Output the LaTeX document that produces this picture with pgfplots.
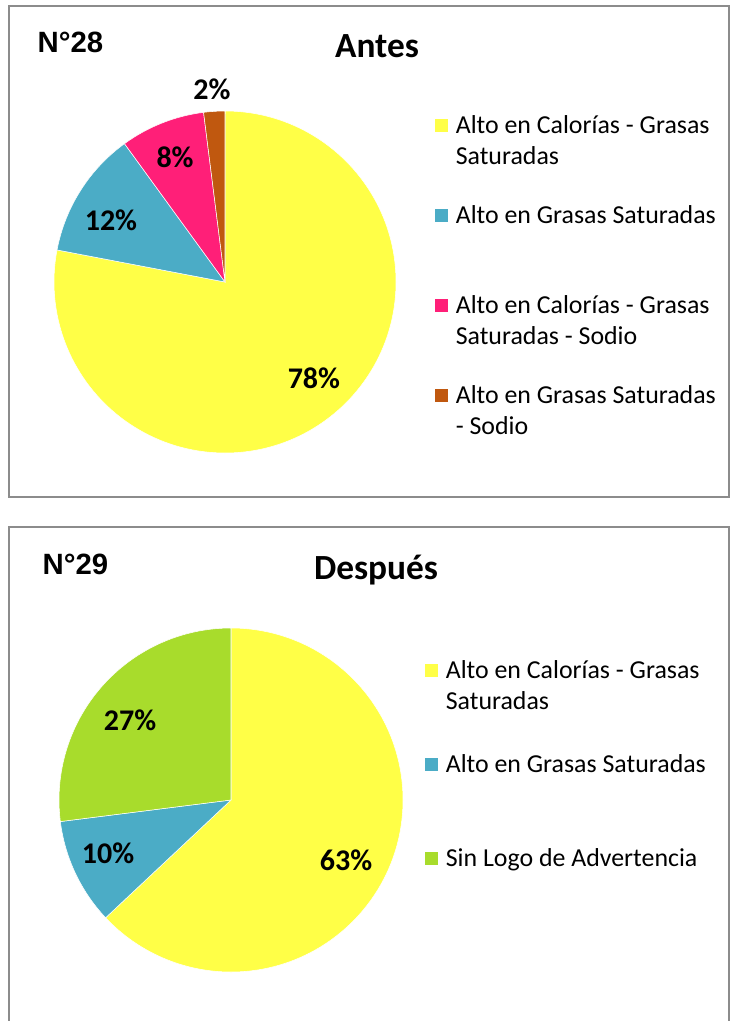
\documentclass[border=0pt]{standalone}
\usepackage{fontspec}
\setmainfont{Carlito}
\newfontfamily\arialfont{Liberation Sans}
\usepackage{pgfplots}
\pgfplotsset{compat=1.18}

\definecolor{pieyellow}{HTML}{FFFF47}
\definecolor{pieblue}{HTML}{4BACC6}
\definecolor{piepink}{HTML}{FF1F78}
\definecolor{piebrown}{HTML}{C0580F}
\definecolor{piegreen}{HTML}{A8DC2C}
\definecolor{framegray}{HTML}{8C8C8C}

\newcommand\legfont{\fontsize{19.4pt}{23.25pt}\selectfont}
\newcommand\pctfont{\fontsize{22.5pt}{27pt}\selectfont\bfseries}
\newcommand\titlefont{\fontsize{26.5pt}{32pt}\selectfont\bfseries}
\newcommand\numfont{\arialfont\bfseries\fontsize{22pt}{26pt}\selectfont}
\newcommand\entry[2]{\begin{tabular}[t]{@{}l@{}}#1\\#2\end{tabular}}
\newcommand\legsq[1]{\addlegendimage{legend image code/.code={\fill[#1] (0pt,1.75pt) rectangle (8.5pt,10.25pt);}}}

% slice: #1 start (cumulative %), #2 share (%), #3 colour, #4 radius
\newcommand\slice[4]{%
  \fill[#3, draw=white, line width=0.4pt] (axis cs:0,0)
    -- (axis cs:{cos(90-3.6*#1)},{sin(90-3.6*#1)})
    arc[start angle={90-3.6*#1}, end angle={90-3.6*(#1+#2)}, radius=#4] -- cycle;}

\pgfplotsset{pie/.style={hide axis, clip=false, anchor=origin,
  xmin=-1, xmax=1, ymin=-1, ymax=1,
  legend style={anchor=north west, draw=none, fill=none, inner sep=0pt,
    column sep=6.5pt, font=\legfont,
    nodes={inner sep=0pt, text depth=}, cells={anchor=base west}}}}

\begin{document}
\begin{tikzpicture}[x=0.75pt, y=-0.75pt]
\useasboundingbox (0,0) rectangle (732,1021);
\draw[framegray, line width=1.5pt] (9,6) rectangle (729,497);
\draw[framegray, line width=1.5pt] (9,1035) -- (9,527) -- (729,527) -- (729,1035);

\node[anchor=base west, font=\numfont] at (33,52) {N°28};
\node[anchor=base, font=\titlefont] at (377,57) {Antes};
\node[anchor=base west, font=\numfont] at (38,574) {N°29};
\node[anchor=base, font=\titlefont] at (376,579) {Después};

% Antes
\begin{axis}[pie, x=128.25pt, y=128.25pt, at={(168.75pt,-211.5pt)},
  legend style={at={(axis cs:1.228,0.998)}, row sep=21pt}]
  \slice{0}{78}{pieyellow}{128.25pt}
  \slice{78}{12}{pieblue}{128.25pt}
  \slice{90}{8}{piepink}{128.25pt}
  \slice{98}{2}{piebrown}{128.25pt}
  \node[font=\pctfont] at (axis cs:0.520,-0.561) {78\%};
  \node[font=\pctfont] at (axis cs:-0.667,0.363) {12\%};
  \node[font=\pctfont] at (axis cs:-0.292,0.731) {8\%};
  \node[font=\pctfont] at (axis cs:-0.076,1.129) {2\%};
  \legsq{pieyellow}\addlegendentry{\entry{Alto en Calorías - Grasas}{Saturadas}}
  \legsq{pieblue}\addlegendentry{\entry{Alto en Grasas Saturadas}{\mbox{}}}
  \legsq{piepink}\addlegendentry{\entry{Alto en Calorías - Grasas}{Saturadas - Sodio}}
  \legsq{piebrown}\addlegendentry{\entry{Alto en Grasas Saturadas}{- Sodio}}
\end{axis}

% Después
\begin{axis}[pie, x=129pt, y=129pt, at={(173.25pt,-600pt)},
  legend style={at={(axis cs:1.128,0.835)}, row sep=24pt}]
  \slice{0}{63}{pieyellow}{129pt}
  \slice{63}{10}{pieblue}{129pt}
  \slice{73}{27}{piegreen}{129pt}
  \node[font=\pctfont] at (axis cs:0.669,-0.349) {63\%};
  \node[font=\pctfont] at (axis cs:-0.715,-0.308) {10\%};
  \node[font=\pctfont] at (axis cs:-0.587,0.465) {27\%};
  \legsq{pieyellow}\addlegendentry{\entry{Alto en Calorías - Grasas}{Saturadas}}
  \legsq{pieblue}\addlegendentry{\entry{Alto en Grasas Saturadas}{\mbox{}}}
  \legsq{piegreen}\addlegendentry{\entry{Sin Logo de Advertencia}{\mbox{}}}
\end{axis}
\end{tikzpicture}
\end{document}
